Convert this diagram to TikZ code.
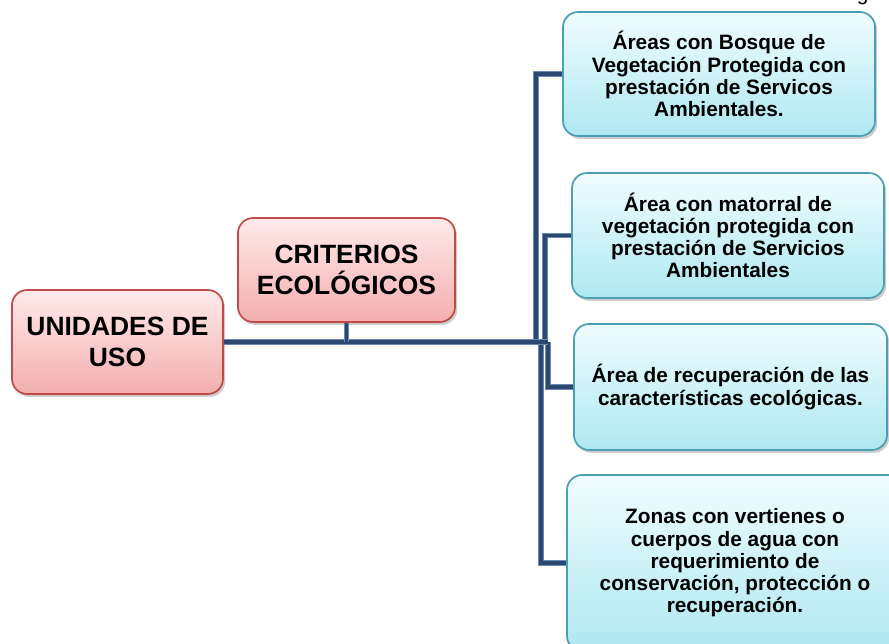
\documentclass[tikz,border=0pt]{standalone}
\usepackage{fontspec}
\setmainfont{Liberation Sans}
\usepackage{tikz}
\usetikzlibrary{shadows}
\usepackage{xcolor}
\definecolor{bluetop}{HTML}{F0FDFF}
\definecolor{bluefill}{HTML}{C0F4FC}
\definecolor{blueedge}{HTML}{4A9FB3}
\definecolor{redtop}{HTML}{FFEAEA}
\definecolor{redfill}{HTML}{FCC0C0}
\definecolor{rededge}{HTML}{BE4B48}
\definecolor{linkdark}{HTML}{2C4770}
\definecolor{linklight}{HTML}{6A8AB3}

\begin{document}
\begin{tikzpicture}[x=0.025cm, y=-0.025cm,
    redbox/.style={draw=rededge, line width=1.2pt, rounded corners=0.38cm,
      top color=redtop, middle color=redfill, bottom color=redfill!85!rededge,
      drop shadow={shadow xshift=1.5pt, shadow yshift=-2pt, opacity=0.4},
      align=center, font=\fontsize{18.8}{21.7}\selectfont\bfseries},
    bluebox/.style={draw=blueedge, line width=1.2pt, rounded corners=0.38cm,
      top color=bluetop, middle color=bluefill, bottom color=bluefill!85!blueedge,
      drop shadow={shadow xshift=1.5pt, shadow yshift=-2pt, opacity=0.4},
      align=center, font=\fontsize{14.8}{15.8}\selectfont\bfseries},
    conn/.style={draw=linkdark, line width=2.6pt,
      preaction={draw=linklight, line width=3.6pt}}]
    \useasboundingbox (0,0) rectangle (889,644);

    \node[font=\fontsize{14.8}{15.8}\selectfont, anchor=base west] (cut) at (852, 1) {g};

    \node[redbox, minimum width=5.275cm, minimum height=2.6cm] (uso) at
      (117.5, 342) {UNIDADES DE\\USO};
    \node[redbox, minimum width=5.425cm, minimum height=2.6cm] (crit) at
      (346.5, 270) {CRITERIOS\\ECOLÓGICOS};

    \node[bluebox, minimum width=7.8cm, minimum height=3.1cm] (b1) at
      (719, 74) {Áreas con Bosque de\\Vegetación Protegida con\\prestación de Servicos\\Ambientales.};
    \node[bluebox, minimum width=7.8cm, minimum height=3.125cm] (b2) at
      (728, 235.5) {Área con matorral de\\vegetación protegida con\\prestación de Servicios\\Ambientales};
    \node[bluebox, minimum width=7.825cm, minimum height=3.15cm] (b3) at
      (730.5, 387) {Área de recuperación de las\\características ecológicas.};
    \node[bluebox, minimum width=8.4cm, minimum height=4.4cm] (b4) at
      (735, 563) {Zonas con vertienes o\\cuerpos de agua con\\requerimiento de\\conservación, protección o\\recuperación.};

    \coordinate (j1) at (536, 342);
    \coordinate (j2) at (545, 342);
    \coordinate (j3) at (548, 342);
    \coordinate (j4) at (541, 342);

    \draw[conn] (j1) |- (b1.west);
    \draw[conn] (j2) |- (b2.west);
    \draw[conn] (j3) |- (b3.west);
    \draw[conn] (j4) |- (b4.west);
    \draw[conn] (uso.east) -- (j3);
    \draw[conn] (crit.south) -- (crit.south |- uso.east);
  \end{tikzpicture}
\end{document}
